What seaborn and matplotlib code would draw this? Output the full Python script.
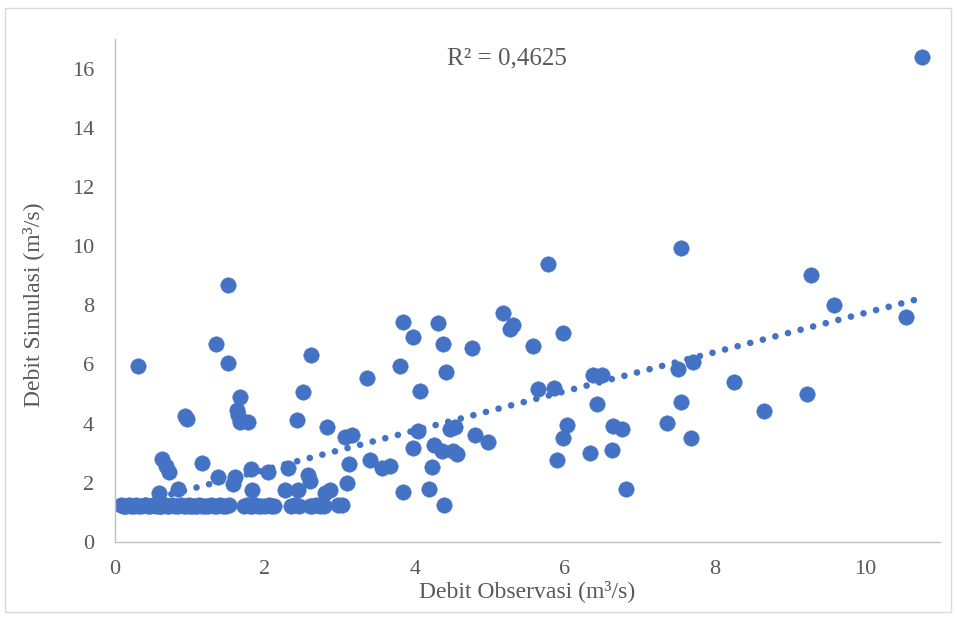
import numpy as np
import pandas as pd
import matplotlib
matplotlib.use("Agg")
import matplotlib.pyplot as plt
import seaborn as sns
from matplotlib.patches import Rectangle

# Observed discharge (x) and simulated discharge (y), m3/s
# dense, overlapping base-flow row
obs_low = [0.08, 0.13, 0.18, 0.25, 0.30, 0.40, 0.47, 0.55, 0.60, 0.66, 0.72, 0.80,
           0.88, 0.95, 1.00, 1.06, 1.12, 1.20, 1.28, 1.36, 1.44, 1.52, 1.72, 1.80,
           1.86, 1.95, 2.05, 2.12, 2.35, 2.45, 2.60, 2.68, 2.78, 2.97, 3.02,
           0.10, 0.15, 0.21, 0.28, 0.35, 0.44, 0.51, 0.58, 0.63, 0.69, 0.76, 0.84,
           0.92, 0.98, 1.03, 1.09, 1.16, 1.24, 1.32, 1.40, 1.48, 1.76, 1.83, 1.90,
           2.00, 2.08, 2.40, 2.63, 2.73]
sim_low = [1.25, 1.20, 1.25, 1.20, 1.22, 1.25, 1.20, 1.22, 1.20, 1.25, 1.20, 1.22,
           1.25, 1.20, 1.22, 1.20, 1.25, 1.20, 1.25, 1.20, 1.22, 1.25, 1.22, 1.20,
           1.25, 1.20, 1.25, 1.20, 1.20, 1.22, 1.20, 1.25, 1.22, 1.25, 1.25,
           1.22, 1.22, 1.20, 1.25, 1.20, 1.22, 1.25, 1.20, 1.22, 1.22, 1.25, 1.20,
           1.22, 1.25, 1.20, 1.22, 1.22, 1.20, 1.22, 1.25, 1.20, 1.25, 1.22, 1.22,
           1.22, 1.20, 1.25, 1.22, 1.20]

obs_mid = [0.59, 0.84, 1.83, 2.27, 2.44, 2.80, 2.87, 3.84, 4.19, 4.39, 6.81,
           1.37, 1.57, 1.60, 0.63, 0.68, 0.72, 1.16, 1.81, 2.04, 2.31, 2.57, 2.60,
           3.09, 3.12, 3.40, 3.56, 3.67, 4.23, 5.89, 6.33, 6.63,
           2.83, 3.07, 3.16, 3.97, 4.04, 4.25, 4.36, 4.51, 4.56, 4.47, 4.53, 4.80,
           4.97, 5.97, 6.03, 6.64, 6.76, 7.36, 7.68]
sim_mid = [1.65, 1.79, 1.76, 1.76, 1.76, 1.65, 1.76, 1.69, 1.80, 1.25, 1.79,
           2.20, 1.95, 2.20, 2.82, 2.58, 2.35, 2.68, 2.48, 2.38, 2.50, 2.25, 2.05,
           2.00, 2.65, 2.77, 2.50, 2.57, 2.53, 2.77, 3.00, 3.12,
           3.90, 3.55, 3.60, 3.18, 3.75, 3.27, 3.07, 3.07, 2.97, 3.82, 3.90, 3.60,
           3.38, 3.51, 3.97, 3.92, 3.83, 4.02, 3.50]

obs_high = [0.93, 0.96, 1.63, 1.64, 1.67, 1.77, 2.43, 1.67, 2.51, 4.07, 5.64, 5.85,
            6.43, 7.55, 8.65, 9.23,
            0.31, 1.35, 1.51, 2.61, 3.36, 3.80, 4.41, 3.97, 4.37, 4.76, 5.57, 5.97,
            6.37, 6.49, 7.51, 7.71, 8.25,
            1.51, 3.84, 4.31, 5.17, 5.27, 5.31, 5.77, 7.55, 9.28, 9.59, 10.55, 10.76]
sim_high = [4.25, 4.15, 4.45, 4.30, 4.06, 4.06, 4.12, 4.90, 5.07, 5.10, 5.17, 5.20,
            4.66, 4.72, 4.43, 5.00,
            5.95, 6.70, 6.05, 6.32, 5.54, 5.95, 5.74, 6.93, 6.69, 6.57, 6.62, 7.08,
            5.64, 5.66, 5.84, 6.08, 5.41,
            8.68, 7.43, 7.40, 7.73, 7.20, 7.35, 9.39, 9.93, 9.02, 8.00, 7.60, 16.39]

x_ticks = [0, 2, 4, 6, 8, 10]
y_ticks = [0, 2, 4, 6, 8, 10, 12, 14, 16]
r2_label = "R² = 0,4625"
x_label = "Debit Observasi (m³/s)"
y_label = "Debit Simulasi (m³/s)"

df = pd.DataFrame({
    "obs": obs_low + obs_mid + obs_high,
    "sim": sim_low + sim_mid + sim_high,
})

sns.set_theme(style="white")
plt.rcParams["font.family"] = ["Liberation Serif", "DejaVu Serif"]

blue = "#4472C4"
grey_text = "#595959"

fig = plt.figure(figsize=(9.57, 6.18), dpi=100)
ax = fig.add_axes([115 / 957, 76 / 618, (940 - 115) / 957, (542 - 39) / 618])

# linear trendline fitted on the data
sns.regplot(data=df, x="obs", y="sim", ax=ax, scatter=False, ci=None, truncate=True,
            line_kws=dict(color=blue, lw=4.8, linestyle=(0, (0.001, 1.95)),
                          dash_capstyle="round", zorder=1))

sns.scatterplot(data=df, x="obs", y="sim", ax=ax, s=125, color=blue,
                edgecolor=blue, linewidth=0.3, zorder=2)

ax.set_xlim(0, 11)
ax.set_ylim(0, 17)
ax.set_xticks(x_ticks)
ax.set_yticks(y_ticks)
ax.tick_params(axis="both", length=0, labelsize=16, labelcolor=grey_text)
ax.tick_params(axis="x", pad=13)
ax.tick_params(axis="y", pad=15)

for s in ["top", "right"]:
    ax.spines[s].set_visible(False)
for s in ["left", "bottom"]:
    ax.spines[s].set_color("#bfbfbf")
    ax.spines[s].set_linewidth(1.0)

ax.set_xlabel(x_label, fontsize=17, color=grey_text, labelpad=1)
ax.set_ylabel(y_label, fontsize=17, color=grey_text)
ax.yaxis.set_label_coords(-0.086, 0.471)

ax.text(5.23, 16.35, r2_label, fontsize=18, color=grey_text, ha="center", va="center")

# chart-area border
fig.patches.append(Rectangle((5 / 957, 6 / 618), 946 / 957, 604 / 618,
                             transform=fig.transFigure, fill=False,
                             edgecolor="#d9d9d9", linewidth=1.0))

fig.savefig("out.png", dpi=100)
